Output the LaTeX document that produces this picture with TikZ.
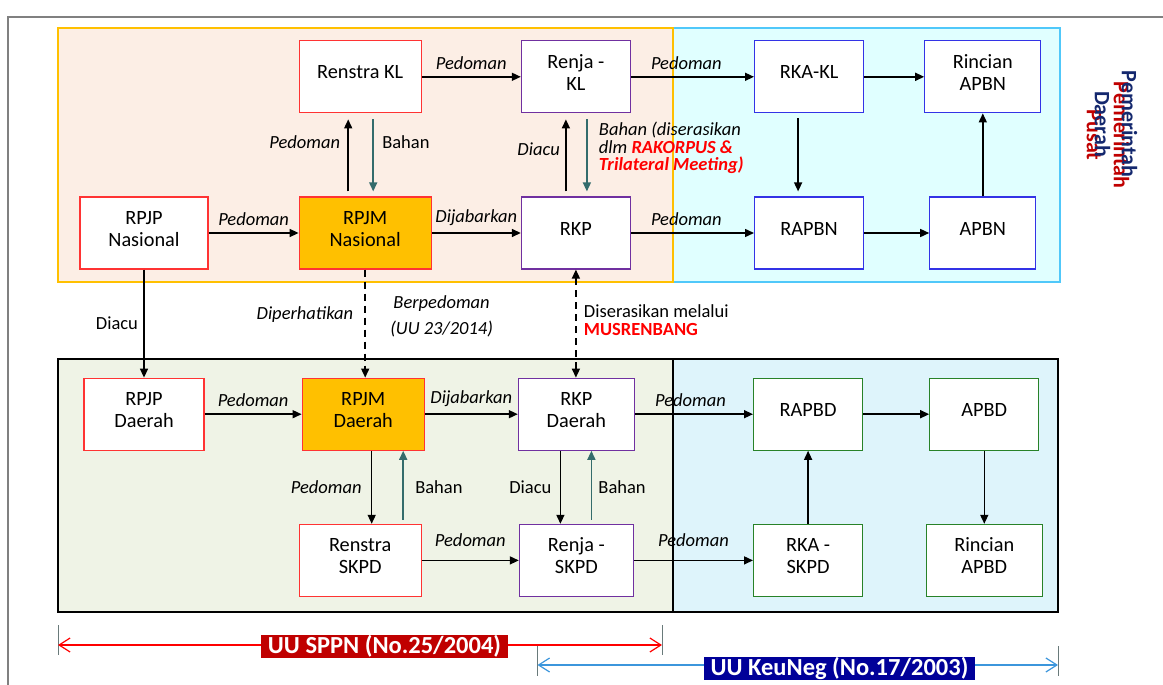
\documentclass[tikz,border=0pt]{standalone}
\usepackage{fontspec}
\setmainfont{Carlito}
\usetikzlibrary{arrows.meta, positioning}
\definecolor{my_peach}{RGB}{252, 238, 229}
\definecolor{my_gold}{RGB}{255, 192, 0}
\definecolor{my_cyan}{RGB}{224, 255, 255}
\definecolor{my_cyanline}{RGB}{80, 200, 250}
\definecolor{my_olive}{RGB}{239, 243, 230}
\definecolor{my_sky}{RGB}{222, 244, 251}
\definecolor{my_red}{RGB}{255, 51, 51}
\definecolor{my_purple}{RGB}{112, 48, 160}
\definecolor{my_blue}{RGB}{51, 51, 230}
\definecolor{my_green}{RGB}{40, 130, 40}
\definecolor{my_teal}{RGB}{52, 108, 108}
\definecolor{my_darkred}{RGB}{192, 0, 0}
\definecolor{my_navy}{RGB}{0, 0, 153}
\definecolor{my_lineblue}{RGB}{60, 150, 220}
\definecolor{my_sideblue}{RGB}{20, 40, 110}
\newcommand{\diagboxfont}{\fontsize{20.3}{22}\selectfont}
\newcommand{\diaglblfont}{\fontsize{18.5}{17.5}\selectfont}
\newcommand{\diaglawfont}{\fontsize{24.5}{26}\selectfont\bfseries}
\newcommand{\diagsidefont}{\fontsize{22}{27}\selectfont\bfseries}
\tikzset {
  box/.style = {draw, line width=1.2pt, fill=white, minimum height=72pt, text depth=9pt, inner sep=0pt, align=center, font=\diagboxfont},
  boxred/.style = {box, draw=my_red},
  boxpurple/.style = {box, draw=my_purple},
  boxblue/.style = {box, draw=my_blue},
  boxgreen/.style = {box, draw=my_green},
  line/.style = {-{Triangle[length=9pt, width=8pt]}, line width=1.5pt, color=black},
  bahan/.style = {line, color=my_teal},
  dashline/.style = {line, dash pattern=on 7pt off 5pt},
  lbl/.style = {text=black, font=\diaglblfont\itshape},
  plainlbl/.style = {text=black, font=\diaglblfont},
  tick/.style = {line width=1pt, color=gray!70!my_teal},
  lawline/.style = {{Straight Barb[length=11pt, width=14pt]}-{Straight Barb[length=11pt, width=14pt]}, line width=1.2pt},
  lawbox/.style = {text=white, font=\diaglawfont, inner xsep=7pt, inner ysep=0pt, minimum height=23pt},
  side/.style = {rotate=-90, align=center, font=\diagsidefont}
}

\begin{document}
\begin{tikzpicture}[x=1pt, y=-1pt]
  \useasboundingbox (0,0) rectangle (1163,685);
  \draw[gray, line width=1.5pt] (8,685) -- (8,17) -- (1163,17);

  % panels
  \filldraw[fill=my_cyan, draw=my_cyanline, line width=1.5pt] (673,28) rectangle (1060,282);
  \filldraw[fill=my_peach, draw=my_gold, line width=1.5pt] (58,28) rectangle (673,282);
  \filldraw[fill=my_olive, draw=black, line width=1.2pt] (58,359) rectangle (673,612);
  \filldraw[fill=my_sky, draw=black, line width=1.2pt] (673,359) rectangle (1058,612);

  % pusat
  \node[boxred, minimum width=128pt] (rpjpnas) at (144,233) {RPJP\\Nasional};
  \node[boxred, fill=my_gold, minimum width=132pt, right=90pt of rpjpnas] (rpjmnas) {RPJM\\Nasional};
  \node[boxpurple, minimum width=109pt, right=89pt of rpjmnas] (rkp) {RKP};
  \node[boxblue, minimum width=109pt, right=123pt of rkp] (rapbn) {RAPBN};
  \node[boxblue, minimum width=106pt, right=65pt of rapbn] (apbn) {APBN};
  \node[boxred, minimum width=122pt, above=83pt of rpjmnas, xshift=-5pt] (renstrakl) {Renstra KL};
  \node[boxpurple, minimum width=109pt, above=83pt of rkp] (renjakl) {Renja -\\KL};
  \node[boxblue, minimum width=109pt, above=83pt of rapbn] (rkakl) {RKA-KL};
  \node[boxblue, minimum width=116pt, above=83pt of apbn] (rincianapbn) {Rincian\\APBN};

  % daerah
  \node[boxred, minimum width=120pt, below=108pt of rpjpnas] (rpjpdae) {RPJP\\Daerah};
  \node[boxred, fill=my_gold, minimum width=122pt, right=97pt of rpjpdae] (rpjmdae) {RPJM\\Daerah};
  \node[boxpurple, minimum width=116pt, right=93pt of rpjmdae] (rkpdae) {RKP\\Daerah};
  \node[boxgreen, minimum width=109pt, right=118pt of rkpdae] (rapbd) {RAPBD};
  \node[boxgreen, minimum width=109pt, right=66pt of rapbd] (apbd) {APBD};
  \node[boxred, minimum width=122pt, below=73pt of rpjmdae, xshift=-3pt] (renstraskpd) {Renstra\\SKPD};
  \node[boxpurple, minimum width=114pt, below=73pt of rkpdae] (renjaskpd) {Renja -\\SKPD};
  \node[boxgreen, minimum width=109pt, below=73pt of rapbd] (rkaskpd) {RKA -\\SKPD};
  \node[boxgreen, minimum width=116pt, below=73pt of apbd] (rincianapbd) {Rincian\\APBD};

  \draw[line] (rpjpnas) -- node[lbl, above=3pt] {Pedoman} (rpjmnas);
  \draw[line] (rpjmnas) -- node[lbl, above=3pt] {Dijabarkan} (rkp);
  \draw[line] (rkp) -- node[lbl, above=3pt, pos=0.45] {Pedoman} (rapbn);
  \draw[line] (rapbn) -- (apbn);
  \draw[line] (renstrakl) -- node[lbl, above=3pt] {Pedoman} (renjakl);
  \draw[line] (renjakl) -- node[lbl, above=3pt, pos=0.45] {Pedoman} (rkakl);
  \draw[line] (rkakl) -- (rincianapbn);
  \draw[line, shorten <=5pt, shorten >=5pt] ([xshift=-11pt]rkakl.south) -- ([xshift=-11pt]rkakl.south |- rapbn.north);
  \draw[line] (apbn.north) -- (apbn.north |- rincianapbn.south);
  \draw[line, shorten <=5pt, shorten >=6pt] ([xshift=-12pt]renstrakl.south |- rpjmnas.north) -- node[lbl, left=4pt, pos=0.65] {Pedoman} ([xshift=-12pt]renstrakl.south);
  \draw[bahan, shorten <=6pt, shorten >=5pt] ([xshift=13pt]renstrakl.south) -- node[plainlbl, right=5pt, pos=0.35] {Bahan} ([xshift=13pt]renstrakl.south |- rpjmnas.north);
  \draw[line, shorten <=5pt, shorten >=6pt] ([xshift=-10pt]renjakl.south |- rkp.north) -- node[lbl, left=2pt, pos=0.57] {Diacu} ([xshift=-10pt]renjakl.south);
  \draw[bahan, shorten <=6pt, shorten >=5pt] ([xshift=11pt]renjakl.south) -- node[lbl, right=8pt, pos=0.42, align=left] {Bahan (diserasikan\\dlm \textcolor{red}{\bfseries RAKORPUS \&}\\\textcolor{red}{\bfseries Trilateral Meeting)}} ([xshift=11pt]renjakl.south |- rkp.north);

  \draw[line] (rpjpnas) -- node[plainlbl, left=2pt] {Diacu} (rpjpnas |- rpjpdae.north);
  \draw[dashline] (rpjmnas) -- node[lbl, left=8pt, pos=0.42] {Diperhatikan} node[lbl, right=21pt, pos=0.43, align=center, font=\fontsize{18.5}{26}\selectfont\itshape] {Berpedoman\\(UU 23/2014)} (rpjmnas |- rpjmdae.north);
  \draw[dashline, {Triangle[length=9pt, width=8pt]}-{Triangle[length=9pt, width=8pt]}] (rkp) -- node[plainlbl, right=4pt, pos=0.47, align=left] {Diserasikan melalui\\\textcolor{red}{\bfseries MUSRENBANG}} (rkp |- rkpdae.north);

  \draw[line] (rpjpdae) -- node[lbl, above=3pt] {Pedoman} (rpjmdae);
  \draw[line] (rpjmdae) -- node[lbl, above=3pt] {Dijabarkan} (rkpdae);
  \draw[line] (rkpdae) -- node[lbl, above=3pt, pos=0.47] {Pedoman} (rapbd);
  \draw[line] (rapbd) -- (apbd);
  \draw[line] (renstraskpd) -- node[lbl, above=10pt] {Pedoman} (renjaskpd);
  \draw[line] (renjaskpd) -- node[lbl, above=10pt] {Pedoman} (rkaskpd);
  \draw[line] (rkaskpd) -- (rapbd);
  \draw[line] (apbd) -- (rincianapbd);
  \draw[line] ([xshift=11.5pt]renstraskpd.north |- rpjmdae.south) -- node[lbl, left=6pt] {Pedoman} ([xshift=11.5pt]renstraskpd.north);
  \draw[bahan, shorten <=4pt] ([xshift=43pt]renstraskpd.north) -- node[plainlbl, right=8pt] {Bahan} ([xshift=43pt]renstraskpd.north |- rpjmdae.south);
  \draw[line] ([xshift=-16pt]rkpdae.south) -- node[plainlbl, left=5pt] {Diacu} ([xshift=-16pt]rkpdae.south |- renjaskpd.north);
  \draw[bahan, shorten <=4pt] ([xshift=15pt]renjaskpd.north) -- node[plainlbl, right=3pt] {Bahan} ([xshift=15pt]renjaskpd.north |- rkpdae.south);

  % undang-undang
  \coordinate (sppnl) at (58,645);
  \coordinate (sppnr) at (662,645);
  \coordinate (keul) at (537.5,665);
  \coordinate (keur) at (1058,665);
  \draw[tick] ([yshift=20pt]sppnl) -- ([yshift=-10pt]sppnl);
  \draw[tick] ([yshift=20pt]sppnr) -- ([yshift=-10pt]sppnr);
  \draw[tick] ([yshift=19pt]keul) -- ([yshift=-11pt]keul);
  \draw[tick] ([yshift=19pt]keur) -- ([yshift=-11pt]keur);
  \draw[lawline, red] (sppnl) -- (sppnr);
  \draw[lawline, my_lineblue] (keul) -- (keur);
  \node[lawbox, fill=my_darkred] (sppn) at (384.5,646.5) {UU SPPN (No.25/2004)};
  \node[lawbox, fill=my_navy] (keuneg) at (839.5,668) {UU KeuNeg (No.17/2003)};

  \node[side, text=my_darkred] (pusat) at (1108,135) {Pemerintah\\Pusat};
  \node[side, text=my_sideblue] (daerah) at (1116,124) {Pemerintah\\Daerah};
\end{tikzpicture}
\end{document}
